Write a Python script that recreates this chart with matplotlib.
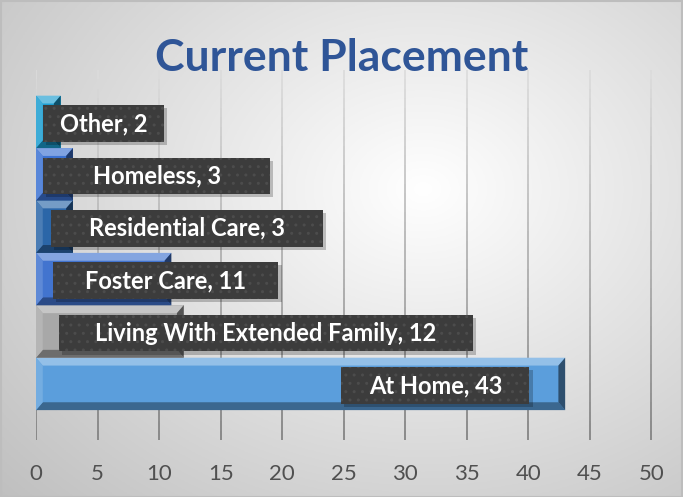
import numpy as np
import matplotlib
matplotlib.use('Agg')
import matplotlib.pyplot as plt
from matplotlib.patches import Rectangle, Polygon
from matplotlib.collections import LineCollection
from matplotlib.colors import to_rgb

# Дані
categories = ['At Home', 'Living With Extended Family', 'Foster Care',
              'Residential Care', 'Homeless', 'Other']
values = [43, 12, 11, 3, 3, 2]
bar_colors = ['#5B9EDC', '#A8A8A8', '#4274CF', '#2B66A8', '#3C72D2', '#1C9DD0']
# межі підписів (ліво, право) в одиницях осі x
label_left = [24.8, 1.9, 1.4, 1.2, 0.6, 0.6]
label_right = [40.1, 35.5, 19.7, 23.3, 19.0, 10.4]
xticks = list(range(0, 55, 5))

plt.rcParams['font.family'] = ['Lato', 'DejaVu Sans']


def shade(c, f):
    r = np.array(to_rgb(c))
    if f > 0:
        return tuple(r + (1 - r) * f)
    return tuple(r * (1 + f))


fig = plt.figure(figsize=(6.83, 4.97), dpi=100)

# Фон з градієнтом
bg = fig.add_axes([0, 0, 1, 1], zorder=-5)
yy, xx = np.mgrid[0:1:200j, 0:1:300j]
d = np.sqrt(((xx - 0.62) / 0.75) ** 2 + ((yy - 0.62) / 0.8) ** 2)
v = 1 - 0.22 * np.clip(d, 0, 1.2)
bg.imshow(np.dstack([v, v, v]), extent=[0, 1, 0, 1], origin='lower', aspect='auto')
bg.add_patch(Rectangle((0.001, 0.001), 0.997, 0.996, fill=False, edgecolor='#BDBDBD', lw=1.5))
bg.set_xlim(0, 1)
bg.set_ylim(0, 1)
bg.axis('off')

ax = fig.add_axes([0.0527, 0.1147, 0.9063, 0.7445])
ax.patch.set_alpha(0)
for s in ax.spines.values():
    s.set_visible(False)

# Лінії сітки з градієнтом
segs, cols = [], []
ylo, yhi = -1.07, 5.99
steps = np.linspace(ylo, yhi, 40)
for xt in xticks:
    for a, b in zip(steps[:-1], steps[1:]):
        segs.append([(xt, a), (xt, b)])
        t = (b - ylo) / (yhi - ylo)
        g = 0.48 + 0.38 * t
        cols.append((g, g, g))
ax.add_collection(LineCollection(segs, colors=cols, linewidths=1.2, zorder=0))

ypos = np.arange(len(categories))
bars = ax.barh(ypos, values, height=1.0, color=bar_colors, zorder=2)

# Ефект фаски
bx, by = 0.55, 0.15
for rect, c in zip(bars, bar_colors):
    x0, y0 = rect.get_x(), rect.get_y()
    w, h = rect.get_width(), rect.get_height()
    x1, y1 = x0 + w, y0 + h
    ax.add_patch(Polygon([(x0, y1), (x1, y1), (x1 - bx, y1 - by), (x0 + bx, y1 - by)],
                         color=shade(c, 0.35), lw=0, zorder=3))
    ax.add_patch(Polygon([(x0, y0), (x1, y0), (x1 - bx, y0 + by), (x0 + bx, y0 + by)],
                         color=shade(c, -0.35), lw=0, zorder=3))
    ax.add_patch(Polygon([(x0, y0), (x0, y1), (x0 + bx, y1 - by), (x0 + bx, y0 + by)],
                         color=shade(c, 0.15), lw=0, zorder=3))
    ax.add_patch(Polygon([(x1, y0), (x1, y1), (x1 - bx, y1 - by), (x1 - bx, y0 + by)],
                         color=shade(c, -0.5), lw=0, zorder=3))

# Підписи даних
plt.rcParams['hatch.linewidth'] = 1.0
for i, (cat, val) in enumerate(zip(categories, values)):
    l, r = label_left[i], label_right[i]
    yc = ypos[i] - 0.03
    hh = 0.70
    ax.add_patch(Rectangle((l + 0.25, yc - hh / 2 - 0.06), r - l, hh,
                           facecolor='#000000', alpha=0.22, lw=0, zorder=4))
    ax.add_patch(Rectangle((l, yc - hh / 2), r - l, hh, facecolor='#3C3C3C',
                           edgecolor='#4C4C4C', hatch='..', lw=0, zorder=5))
    ax.text((l + r) / 2, yc, f'{cat}, {val}', ha='center', va='center',
            color='white', fontsize=17, fontweight='bold', zorder=6)

ax.set_xlim(0, 50.3)
ax.set_ylim(ylo, yhi)
ax.set_xticks(xticks)
ax.set_yticks([])
ax.tick_params(axis='x', length=0, pad=17, labelsize=16, labelcolor='#505050')

fig.text(0.5, 0.883, 'Current Placement', ha='center', va='center',
         fontsize=32, fontweight='bold', color='#2F5597')

fig.savefig('out.png', dpi=100)
